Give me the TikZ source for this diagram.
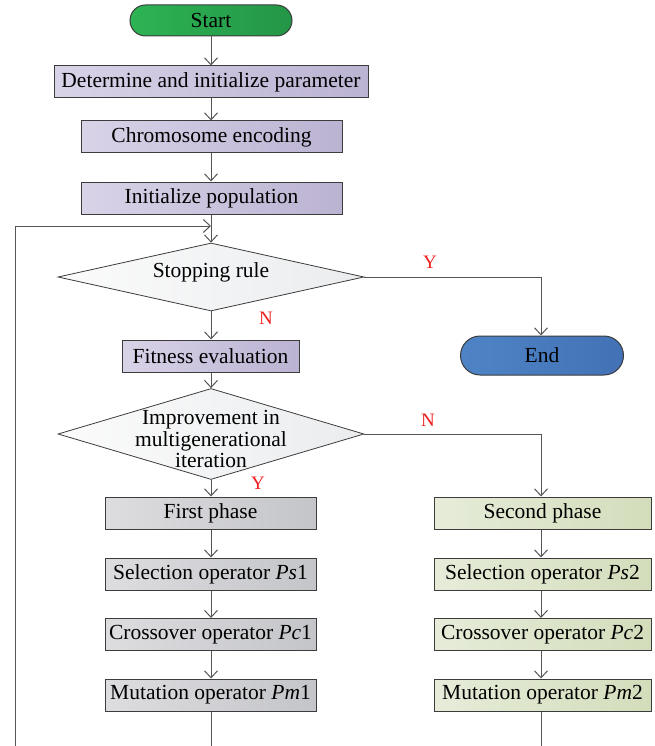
\documentclass[tikz,border=0pt]{standalone}
\usepackage{fontspec}
\setmainfont{Liberation Serif}
\usetikzlibrary{shapes.geometric,shapes.misc,arrows.meta}
\definecolor{pl}{HTML}{D9D3E8}
\definecolor{pr}{HTML}{BBB3D2}
\definecolor{gl}{HTML}{DDDDE0}
\definecolor{gr}{HTML}{C4C5C9}
\definecolor{yl}{HTML}{E6ECD9}
\definecolor{yr}{HTML}{D3DDBB}
\definecolor{dl}{HTML}{FBFBFB}
\definecolor{dr}{HTML}{EAECEE}
\definecolor{stl}{HTML}{2DB354}
\definecolor{str}{HTML}{249647}
\definecolor{enl}{HTML}{4E84C6}
\definecolor{enr}{HTML}{4272B5}
\definecolor{bord}{HTML}{3C3C3C}
\definecolor{ln}{HTML}{555555}
\definecolor{lab}{HTML}{F01E1E}
\begin{document}
\begin{tikzpicture}[x=1pt,y=-1pt,
  txt/.style={font=\fontsize{21.5}{21.5}\selectfont},
  box/.style={rectangle,draw=bord,line width=1pt,minimum height=32pt,inner sep=0pt,txt},
  purp/.style={box,left color=pl,right color=pr},
  grayb/.style={box,left color=gl,right color=gr},
  greenb/.style={box,left color=yl,right color=yr},
  term/.style={rounded rectangle,draw=bord,line width=1pt,inner sep=0pt,txt},
  dia/.style={diamond,draw=bord,line width=0.8pt,inner sep=0pt,left color=dl,right color=dr},
  conn/.style={draw=ln,line width=1pt,-{Straight Barb[length=7pt,width=13pt,line width=1pt]}},
  plain/.style={draw=ln,line width=1pt},
  yn/.style={text=lab,font=\fontsize{19}{19}\selectfont,inner sep=0pt}]
\useasboundingbox (0,0) rectangle (655,746);
\node[term,left color=stl,right color=str,minimum width=162pt,minimum height=31pt] (start) at (211,20.5) {Start};
\node[purp,minimum width=314pt] (det) at (211,82) {Determine and initialize parameter};
\node[purp,minimum width=261pt] (chr) at (211.5,137) {Chromosome encoding};
\node[purp,minimum width=261pt] (ini) at (211.5,198) {Initialize population};
\node[dia,minimum width=306pt,minimum height=68pt] (d1) at (211,277) {};
\node[txt,inner sep=0pt] (d1t) at (211,272) {Stopping rule};
\node[term,left color=enl,right color=enr,minimum width=163pt,minimum height=39pt] (end) at (542,355.5) {End};
\node[purp,minimum width=177pt] (fit) at (210.5,356) {Fitness evaluation};
\node[dia,minimum width=306pt,minimum height=91pt] (d2) at (211,434) {};
\node[txt,align=center,inner sep=0pt] (d2t) at (211,439) {Improvement in\\multigenerational\\iteration};
\node[grayb,minimum width=211pt] (fp) at (210.5,513) {First phase};
\node[greenb,minimum width=217pt] (sp) at (542.5,513) {Second phase};
\node[grayb,minimum width=211pt] (s1) at (210.5,574) {Selection operator \textit{Ps}1};
\node[greenb,minimum width=217pt] (s2) at (542.5,574) {Selection operator \textit{Ps}2};
\node[grayb,minimum width=211pt] (c1) at (210.5,634.5) {Crossover operator \textit{Pc}1};
\node[greenb,minimum width=217pt] (c2) at (542.5,634.5) {Crossover operator \textit{Pc}2};
\node[grayb,minimum width=211pt] (m1) at (210.5,695) {Mutation operator \textit{Pm}1};
\node[greenb,minimum width=217pt] (m2) at (542.5,695) {Mutation operator \textit{Pm}2};
\node[yn] (ly1) at (430,262) {Y};
\node[yn] (ln1) at (266,318) {N};
\node[yn] (ln2) at (428,420) {N};
\node[yn] (ly2) at (258,483) {Y};
\coordinate (b1) at (211,752);
\coordinate (b2) at (541,752);
\coordinate (bl) at (15,752);
\coordinate (tl) at (15,226);
\coordinate (ml) at (211,226);
\coordinate (e1) at (541,277);
\coordinate (e2) at (541,434);
\path[conn] (start) -- (det);
\path[conn] (det) -- (chr.north -| det.south);
\path[conn] (chr.south -| det.south) -- (ini.north -| det.south);
\path[conn] (ini.south -| det.south) -- (d1.north);
\path[conn] (d1.south) -- (fit.north -| d1.south);
\path[conn] (fit.south -| d1.south) -- (d2.north);
\path[conn] (d1.east) -- (e1) -- (end.north -| e1);
\path[conn] (d2.south) -- (fp.north -| d2.south);
\path[conn] (d2.east) -- (e2) -- (sp.north -| e2);
\path[conn] (fp.south -| d2.south) -- (s1.north -| d2.south);
\path[conn] (s1.south -| d2.south) -- (c1.north -| d2.south);
\path[conn] (c1.south -| d2.south) -- (m1.north -| d2.south);
\path[conn] (sp.south -| e2) -- (s2.north -| e2);
\path[conn] (s2.south -| e2) -- (c2.north -| e2);
\path[conn] (c2.south -| e2) -- (m2.north -| e2);
\path[plain] (m2.south -| e2) -- (b2) -- (b1);
\path[conn] (m1.south -| d2.south) -- (b1) -- (bl) -- (tl) -- (ml);
\end{tikzpicture}
\end{document}
